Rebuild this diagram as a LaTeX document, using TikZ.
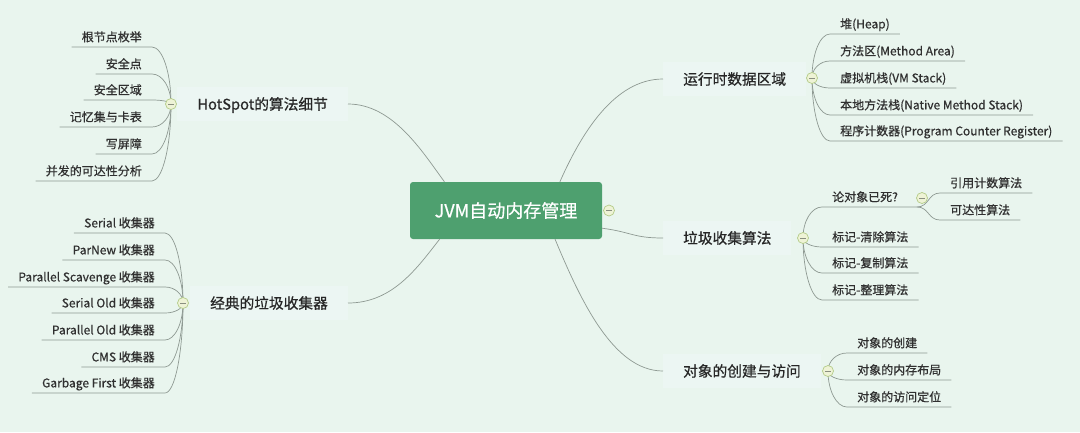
\documentclass[tikz,border=0pt]{standalone}
\usepackage{fontspec}
\setmainfont{Noto Sans CJK SC}[FakeBold=0.6]
\usetikzlibrary{calc}
\definecolor{bg}{HTML}{E9F5EE}
\definecolor{topicbg}{HTML}{ECF6F3}
\definecolor{jvmgreen}{HTML}{4EA06F}
\definecolor{linec}{HTML}{8E9992}
\definecolor{txt}{HTML}{303030}
\definecolor{toptxt}{HTML}{262626}
\definecolor{togfill}{HTML}{EEF3D6}
\definecolor{togdraw}{HTML}{B3CB86}
\definecolor{togminus}{HTML}{8A8F80}
\newcommand\mmL[2]{\draw[conn] (#1) .. controls ($(#1)!0.55!(#1|-#2.south east)$) and ($(#2.south east)!0.55!(#1|-#2.south east)$) .. (#2.south east) -- (#2.south west);}
\newcommand\mmR[2]{\draw[conn] (#1) .. controls ($(#1)!0.55!(#1|-#2.south west)$) and ($(#2.south west)!0.55!(#1|-#2.south west)$) .. (#2.south west) -- (#2.south east);}
\begin{document}
\begin{tikzpicture}[x=1pt,y=-1pt,
 conn/.style={draw=linec, line width=0.7pt},
 central/.style={fill=jvmgreen, rounded corners=3pt, text=white, font=\fontsize{18}{20}\selectfont, minimum width=192pt, minimum height=57pt, inner sep=0pt, text height=15.5pt, text depth=1.8pt},
 topic/.style={fill=topicbg, text=toptxt, font=\fontsize{14.7}{17}\selectfont, inner xsep=20pt, inner ysep=0pt, minimum height=34pt, text height=13pt, text depth=1.8pt},
 kid/.style={text=txt, font=\fontsize{12}{14}\selectfont, inner xsep=10pt, inner ysep=3.4pt, text height=9pt, text depth=2pt},
 toggle/.style={circle, minimum size=11pt, inner sep=0pt, fill=togfill, draw=togdraw, line width=0.7pt, path picture={\draw[togminus, line width=0.6pt] ([xshift=-3pt]path picture bounding box.center) -- ([xshift=3pt]path picture bounding box.center);}}
]
\path[use as bounding box, fill=bg] (0,0) rectangle (1080,432);

% central and main topics
\node[central] (jvm) at (506,210.5) {JVM自动内存管理};
\node[topic, anchor=east] (tp1) at (348,104) {HotSpot的算法细节};
\node[topic, anchor=east] (tp2) at (348,303) {经典的垃圾收集器};
\node[topic, anchor=west] (tp3) at (663,79) {运行时数据区域};
\node[topic, anchor=west] (tp4) at (663,238) {垃圾收集算法};
\node[topic, anchor=west] (tp5) at (663,371) {对象的创建与访问};

% toggle centres
\coordinate (tHc) at (171,104);
\coordinate (tCc) at (183,303);
\coordinate (tRc) at (812,78);
\coordinate (tGc) at (803,238);
\coordinate (tOc) at (828,371);
\coordinate (tJc) at (609,210.5);
\coordinate (tDc) at (922,198);
\coordinate (fork) at (917,207);

% HotSpot children
\node[kid, anchor=south east] (h1) at (152,47) {根节点枚举};
\node[kid, anchor=south east] (h2) at (152,74) {安全点};
\node[kid, anchor=south east] (h3) at (152,100) {安全区域};
\node[kid, anchor=south east] (h4) at (152,127) {记忆集与卡表};
\node[kid, anchor=south east] (h5) at (152,154) {写屏障};
\node[kid, anchor=south east] (h6) at (152,181) {并发的可达性分析};

% collectors
\node[kid, anchor=south east] (c1) at (165,233) {Serial 收集器};
\node[kid, anchor=south east] (c2) at (165,260) {ParNew 收集器};
\node[kid, anchor=south east] (c3) at (165,287) {Parallel Scavenge 收集器};
\node[kid, anchor=south east] (c4) at (165,313) {Serial Old 收集器};
\node[kid, anchor=south east] (c5) at (165,340) {Parallel Old 收集器};
\node[kid, anchor=south east] (c6) at (165,367) {CMS 收集器};
\node[kid, anchor=south east] (c7) at (165,393) {Garbage First 收集器};

% runtime areas
\node[kid, anchor=south west] (r1) at (830,34) {堆(Heap)};
\node[kid, anchor=south west] (r2) at (830,61) {方法区(Method Area)};
\node[kid, anchor=south west] (r3) at (830,88) {虚拟机栈(VM Stack)};
\node[kid, anchor=south west] (r4) at (830,115) {本地方法栈(Native Method Stack)};
\node[kid, anchor=south west] (r5) at (830,141) {程序计数器(Program Counter Register)};

% GC algorithms
\node[kid, anchor=south west] (g1) at (822,207) {论对象已死?};
\node[kid, anchor=south west] (g2) at (822,247) {标记-清除算法};
\node[kid, anchor=south west] (g3) at (822,273) {标记-复制算法};
\node[kid, anchor=south west] (g4) at (822,300) {标记-整理算法};
\node[kid, anchor=south west] (d1) at (940,193) {引用计数算法};
\node[kid, anchor=south west] (d2) at (940,220) {可达性算法};

% objects
\node[kid, anchor=south west] (o1) at (847,353) {对象的创建};
\node[kid, anchor=south west] (o2) at (847,380) {对象的内存布局};
\node[kid, anchor=south west] (o3) at (847,407) {对象的访问定位};

% connectors from the centre
\draw[conn] ($(jvm.north west)!0.18!(jvm.north east)$) .. controls +(-22,-30) and +(45,0) .. (tp1.east);
\draw[conn] ($(jvm.south west)!0.155!(jvm.south east)$) .. controls +(-22,28) and +(45,0) .. (tp2.east);
\draw[conn] ($(jvm.north west)!0.78!(jvm.north east)$) .. controls +(20,-45) and +(-50,0) .. (tp3.west);
\draw[conn] ($(jvm.south east)+(0,-11)$) .. controls +(30,4) and +(-30,0) .. (tp4.west);
\draw[conn] ($(jvm.south west)!0.755!(jvm.south east)$) .. controls +(25,60) and +(-50,0) .. (tp5.west);

% branches
\mmL{tHc}{h1}\mmL{tHc}{h2}\mmL{tHc}{h3}\mmL{tHc}{h4}\mmL{tHc}{h5}\mmL{tHc}{h6}
\mmL{tCc}{c1}\mmL{tCc}{c2}\mmL{tCc}{c3}\mmL{tCc}{c4}\mmL{tCc}{c5}\mmL{tCc}{c6}\mmL{tCc}{c7}
\mmR{tRc}{r1}\mmR{tRc}{r2}\mmR{tRc}{r3}\mmR{tRc}{r4}\mmR{tRc}{r5}
\draw[conn] (tGc) .. controls ($(tGc)!0.55!(tGc|-g1.south west)$) and ($(g1.south west)!0.55!(tGc|-g1.south west)$) .. (g1.south west) -- (fork);
\mmR{tGc}{g2}\mmR{tGc}{g3}\mmR{tGc}{g4}
\draw[conn] (fork) .. controls +(12,0) and +(-12,0) .. (d1.south west) -- (d1.south east);
\draw[conn] (fork) .. controls +(12,0) and +(-12,0) .. (d2.south west) -- (d2.south east);
\mmR{tOc}{o1}\mmR{tOc}{o2}\mmR{tOc}{o3}

% toggles
\node[toggle] (tH) at (tHc) {};
\node[toggle] (tC) at (tCc) {};
\node[toggle] (tR) at (tRc) {};
\node[toggle] (tG) at (tGc) {};
\node[toggle] (tO) at (tOc) {};
\node[toggle] (tJ) at (tJc) {};
\node[toggle] (tD) at (tDc) {};
\end{tikzpicture}
\end{document}
